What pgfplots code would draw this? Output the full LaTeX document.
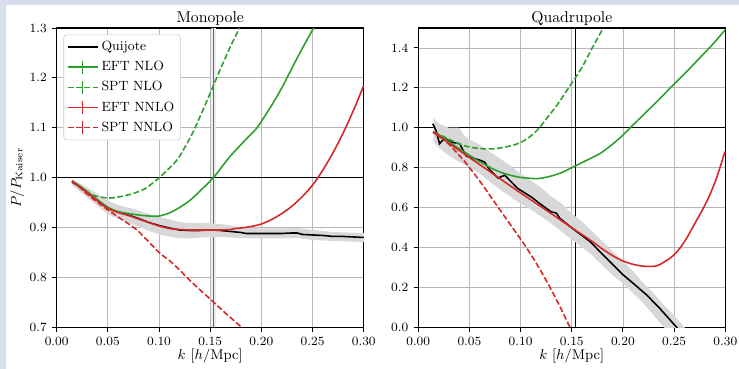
\documentclass[border=0pt]{standalone}
\usepackage{pgfplots}
\pgfplotsset{compat=1.18}
\definecolor{tgreen}{HTML}{2CA02C}
\definecolor{tred}{HTML}{D62728}
\definecolor{bgblue}{RGB}{214,222,238}
\definecolor{bandgray}{RGB}{216,216,216}
\pgfplotsset{
  myaxis/.style={
    scale only axis, width=195pt, height=190pt,
    xmin=0, xmax=0.3,
    xtick={0,0.05,0.1,0.15,0.2,0.25,0.3},
    xticklabel style={font=\fontsize{8}{9}\selectfont, /pgf/number format/.cd, fixed, fixed zerofill, precision=2},
    yticklabel style={font=\fontsize{8}{9}\selectfont, /pgf/number format/.cd, fixed, fixed zerofill, precision=1},
    scaled x ticks=false, scaled y ticks=false,
    tick align=outside, major tick length=2.8pt,
    xtick pos=lower, ytick pos=left,
    tick style={black, line width=0.6pt},
    grid=major, major grid style={black!28, line width=0.55pt},
    axis line style={line width=0.7pt},
    title style={at={(0.5,1)}, anchor=base, yshift=-2.6pt, font=\fontsize{10}{12}\selectfont},
    every axis x label/.style={at={(axis description cs:0.5,0)}, anchor=center, yshift=-18pt, font=\fontsize{9}{11}\selectfont},
    every axis y label/.style={at={(axis description cs:-0.128,0.5)}, anchor=center, rotate=90, font=\fontsize{9}{11}\selectfont},
    xlabel={$k\ [h/\mathrm{Mpc}]$},
  },
  curve/.style={line width=1pt},
  scurve/.style={line width=1pt, smooth, tension=0.45},
  dcurve/.style={line width=1pt, smooth, tension=0.45, dash pattern=on 3.7pt off 1.6pt},
}
\begin{document}
\begin{tikzpicture}
\fill[bgblue] (-36pt,-26.5pt) rectangle (433.3pt,207.8pt);
\fill[white] (-32.2pt,-26.5pt) rectangle (433.3pt,204.6pt);

% ---------------- Monopole ----------------
\begin{axis}[myaxis, at={(0,0)}, anchor=south west,
  ymin=0.7, ymax=1.3, ytick={0.7,0.8,0.9,1.0,1.1,1.2,1.3},
  title={Monopole}, ylabel={$P/P_{\mathrm{Kaiser}}$},
  legend image code/.code={\draw[#1] (0pt,0pt) -- (19pt,0pt); \draw[#1,solid] (9.5pt,-4.2pt) -- (9.5pt,4.2pt);},
  legend style={at={(0.022,0.978)}, anchor=north west, draw=black!20, rounded corners=2pt,
    font=\fontsize{8.5}{10}\selectfont, row sep=1.3pt, inner sep=2pt},
  legend cell align=left]
\addplot[fill=black!7, draw=none, forget plot] coordinates {(0.1512,0.7) (0.1555,0.7) (0.1555,1.3) (0.1512,1.3) (0.1512,0.7)};
\addplot[black!60, line width=0.9pt, forget plot] coordinates {(0.1533,0.7) (0.1533,1.3)};
\addplot[black, line width=0.7pt, forget plot] coordinates {(0,1.0) (0.3,1.0)};
\addplot[fill=bandgray, draw=none, forget plot] coordinates {
(0.015,0.997) (0.03,0.980) (0.04,0.967) (0.05,0.953) (0.06,0.945) (0.07,0.940) (0.08,0.934) (0.09,0.927) (0.10,0.922) (0.11,0.916) (0.12,0.911) (0.13,0.909) (0.14,0.909) (0.15,0.909) (0.16,0.907) (0.17,0.904) (0.18,0.901) (0.19,0.899) (0.20,0.898) (0.22,0.898) (0.235,0.899) (0.25,0.895) (0.27,0.891) (0.30,0.889)
(0.30,0.871) (0.27,0.873) (0.25,0.875) (0.235,0.879) (0.22,0.878) (0.20,0.878) (0.19,0.878) (0.18,0.879) (0.17,0.880) (0.16,0.881) (0.15,0.881) (0.14,0.880) (0.13,0.878) (0.12,0.878) (0.11,0.882) (0.10,0.886) (0.09,0.893) (0.08,0.902) (0.07,0.910) (0.06,0.917) (0.05,0.927) (0.04,0.943) (0.03,0.960) (0.015,0.985) (0.015,0.997)};
\addplot[black, curve, legend image code/.code={\draw[black, line width=1pt] (0pt,0pt) -- (19pt,0pt);}] coordinates {
(0.015,0.991) (0.02,0.985) (0.025,0.978) (0.03,0.970) (0.035,0.962) (0.04,0.955) (0.045,0.947) (0.05,0.940) (0.055,0.935) (0.06,0.931) (0.065,0.928) (0.07,0.925) (0.08,0.918) (0.09,0.910) (0.10,0.904) (0.11,0.899) (0.12,0.895) (0.13,0.894) (0.14,0.894) (0.15,0.895) (0.16,0.894) (0.17,0.892) (0.18,0.890) (0.185,0.888) (0.20,0.888) (0.21,0.888) (0.22,0.888) (0.23,0.889) (0.235,0.889) (0.24,0.886) (0.25,0.885) (0.26,0.884) (0.27,0.882) (0.28,0.882) (0.29,0.881) (0.30,0.880)};
\addlegendentry{Quijote}
\addplot[tgreen, scurve] coordinates {
(0.015,0.993) (0.02,0.987) (0.03,0.972) (0.04,0.955) (0.05,0.940) (0.06,0.932) (0.07,0.928) (0.08,0.925) (0.09,0.923) (0.10,0.923) (0.11,0.929) (0.12,0.940) (0.13,0.954) (0.14,0.973) (0.1531,1.0) (0.16,1.018) (0.17,1.044) (0.185,1.077) (0.1957,1.10) (0.21,1.145) (0.22,1.18) (0.235,1.24) (0.251,1.30) (0.26,1.33)};
\addlegendentry{EFT NLO}
\addplot[tgreen, dcurve] coordinates {
(0.015,0.993) (0.02,0.985) (0.03,0.970) (0.04,0.962) (0.0515,0.959) (0.06,0.961) (0.071,0.966) (0.08,0.972) (0.0873,0.979) (0.1003,1.0) (0.1166,1.033) (0.125,1.06) (0.1329,1.09) (0.14,1.122) (0.146,1.15) (0.153,1.184) (0.16,1.218) (0.17,1.264) (0.1786,1.30) (0.19,1.35)};
\addlegendentry{SPT NLO}
\addplot[tred, scurve] coordinates {
(0.015,0.991) (0.02,0.985) (0.03,0.970) (0.04,0.953) (0.05,0.938) (0.06,0.930) (0.07,0.924) (0.08,0.917) (0.09,0.910) (0.10,0.903) (0.11,0.898) (0.12,0.896) (0.13,0.895) (0.15,0.895) (0.16,0.895) (0.17,0.896) (0.175,0.898) (0.18,0.899) (0.19,0.902) (0.20,0.907) (0.21,0.916) (0.22,0.928) (0.23,0.943) (0.24,0.962) (0.25,0.985) (0.26,1.015) (0.27,1.05) (0.28,1.09) (0.29,1.135) (0.30,1.185)};
\addlegendentry{EFT NNLO}
\addplot[tred, dcurve] coordinates {
(0.015,0.993) (0.02,0.985) (0.032,0.963) (0.0515,0.933) (0.071,0.906) (0.08,0.892) (0.10,0.850) (0.11,0.834) (0.12,0.815) (0.1296,0.795) (0.14,0.775) (0.1524,0.752) (0.165,0.728) (0.18,0.701) (0.19,0.68)};
\addlegendentry{SPT NNLO}
\end{axis}

% ---------------- Quadrupole ----------------
\begin{axis}[myaxis, at={(229.6pt,0)}, anchor=south west,
  ymin=0, ymax=1.5, ytick={0,0.2,0.4,0.6,0.8,1.0,1.2,1.4},
  title={Quadrupole}]
\addplot[black, line width=0.7pt] coordinates {(0.1537,0) (0.1537,1.5)};
\addplot[black, line width=0.7pt] coordinates {(0,1.0) (0.3,1.0)};
\addplot[fill=bandgray, draw=none] coordinates {
(0.015,1.05) (0.02,1.02) (0.03,1.0) (0.04,1.0) (0.045,0.96) (0.05,0.94) (0.06,0.915) (0.07,0.88) (0.08,0.845) (0.09,0.81) (0.10,0.77) (0.11,0.735) (0.12,0.70) (0.13,0.655) (0.14,0.62) (0.15,0.57) (0.16,0.53) (0.17,0.48) (0.18,0.43) (0.19,0.38) (0.20,0.33) (0.21,0.28) (0.22,0.22) (0.23,0.17) (0.24,0.11) (0.25,0.06) (0.26,0.0) (0.27,-0.05)
(0.27,-0.16) (0.26,-0.10) (0.25,-0.05) (0.24,0.0) (0.23,0.06) (0.22,0.12) (0.21,0.17) (0.20,0.22) (0.19,0.26) (0.18,0.31) (0.17,0.36) (0.16,0.40) (0.15,0.44) (0.14,0.48) (0.13,0.52) (0.12,0.555) (0.11,0.59) (0.10,0.62) (0.09,0.655) (0.08,0.69) (0.07,0.73) (0.06,0.77) (0.05,0.80) (0.04,0.83) (0.03,0.86) (0.02,0.90) (0.015,0.93) (0.015,1.05)};
\addplot[black, curve] coordinates {
(0.0143,1.02) (0.0175,0.985) (0.0208,0.92) (0.0257,0.948) (0.0323,0.928) (0.0404,0.92) (0.0469,0.858) (0.0534,0.848) (0.0600,0.838) (0.0648,0.828) (0.0697,0.79) (0.0779,0.748) (0.0844,0.762) (0.0974,0.695) (0.1104,0.653) (0.12,0.615) (0.13,0.578) (0.135,0.572) (0.1381,0.547) (0.1482,0.505) (0.156,0.475) (0.1677,0.43) (0.1808,0.362) (0.19,0.315) (0.2003,0.262) (0.21,0.22) (0.2231,0.162) (0.235,0.10) (0.2524,0.0) (0.26,-0.04)};
\addplot[tgreen, scurve] coordinates {
(0.0143,0.978) (0.02,0.965) (0.03,0.93) (0.04,0.895) (0.05,0.862) (0.06,0.83) (0.0713,0.798) (0.08,0.778) (0.09,0.762) (0.10,0.751) (0.1137,0.745) (0.12,0.747) (0.13,0.758) (0.14,0.775) (0.1482,0.795) (0.156,0.815) (0.165,0.838) (0.178,0.872) (0.19,0.918) (0.20,0.963) (0.2068,0.998) (0.22,1.065) (0.235,1.14) (0.2492,1.215) (0.262,1.28) (0.275,1.35) (0.2875,1.417) (0.2997,1.49)};
\addplot[tgreen, dcurve] coordinates {
(0.015,0.98) (0.025,0.955) (0.035,0.93) (0.045,0.91) (0.055,0.899) (0.065,0.894) (0.075,0.895) (0.085,0.903) (0.093,0.913) (0.10,0.926) (0.108,0.951) (0.1157,0.985) (0.1215,1.02) (0.1275,1.06) (0.1365,1.12) (0.1482,1.21) (0.155,1.262) (0.1613,1.315) (0.17,1.40) (0.1808,1.5) (0.19,1.58)};
\addplot[tred, scurve] coordinates {
(0.0143,0.978) (0.03,0.922) (0.05,0.851) (0.075,0.762) (0.10,0.673) (0.125,0.587) (0.1482,0.505) (0.1677,0.438) (0.18,0.392) (0.1905,0.357) (0.20,0.332) (0.21,0.315) (0.2198,0.306) (0.23,0.305) (0.2361,0.314) (0.2475,0.352) (0.255,0.392) (0.2622,0.446) (0.27,0.518) (0.2785,0.596) (0.285,0.665) (0.2915,0.749) (0.2997,0.88)};
\addplot[tred, dcurve] coordinates {
(0.015,0.978) (0.02,0.962) (0.03,0.917) (0.0456,0.829) (0.0619,0.72) (0.0782,0.6) (0.0945,0.482) (0.106,0.397) (0.118,0.298) (0.1287,0.2) (0.1385,0.103) (0.1482,0.0) (0.155,-0.07)};
\end{axis}
\pgfresetboundingbox
\path[use as bounding box] (-36pt,-26.5pt) rectangle (433.3pt,207.8pt);
\end{tikzpicture}
\end{document}
